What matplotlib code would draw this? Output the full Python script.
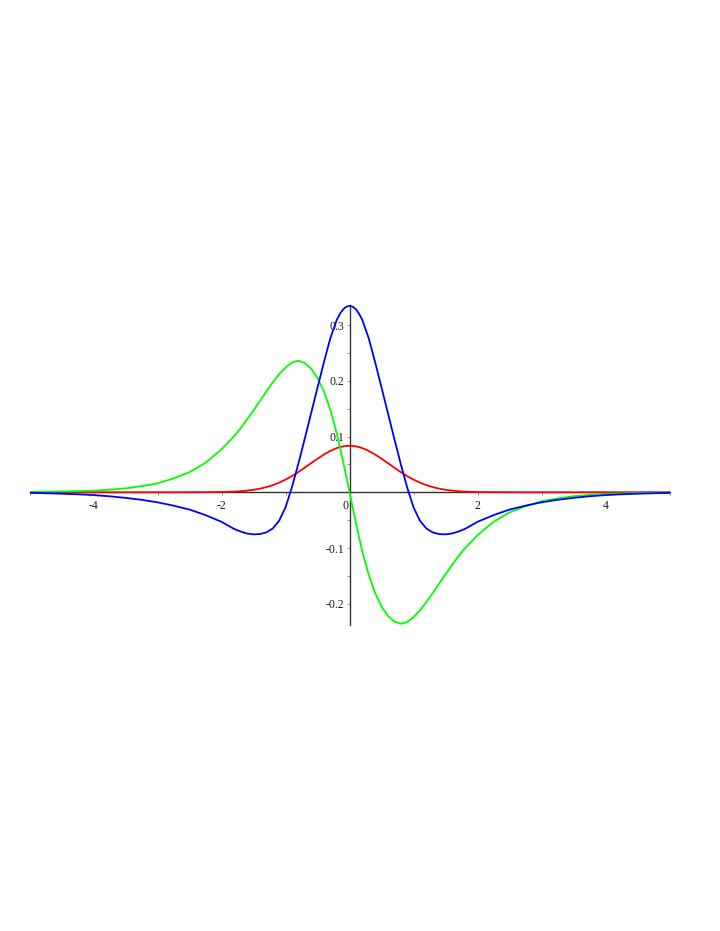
import numpy as np
import matplotlib
matplotlib.use("Agg")
import matplotlib.pyplot as plt
from matplotlib.ticker import MultipleLocator, FixedLocator

plt.rcParams['font.family'] = ['Liberation Serif', 'DejaVu Serif']

# values
x_vals = [-5, -4.75, -4.5, -4.25, -4, -3.75, -3.5, -3.25, -3, -2.75, -2.5, -2.25,
          -2.0, -1.9, -1.8, -1.7, -1.6, -1.5, -1.4, -1.3, -1.2, -1.1,
          -1.0, -0.9, -0.8, -0.7, -0.6, -0.5, -0.4, -0.3, -0.2, -0.15, -0.1, -0.05,
          0.0,
          0.05, 0.1, 0.15, 0.2, 0.3, 0.4, 0.5, 0.6, 0.7, 0.8, 0.9, 1.0,
          1.1, 1.2, 1.3, 1.4, 1.5, 1.6, 1.7, 1.8, 1.9, 2.0,
          2.25, 2.5, 2.75, 3, 3.25, 3.5, 3.75, 4, 4.25, 4.5, 4.75, 5]

red_vals = [0, 0, 0, 0, 0, 0, 0, 0, 0, 0, 0.0001, 0.0002,
            0.0005, 0.0008, 0.0012, 0.0020, 0.0030, 0.0045, 0.0065, 0.0093, 0.0128, 0.0173,
            0.0228, 0.0291, 0.0363, 0.0442, 0.0523, 0.0603, 0.0678, 0.0743, 0.0793, 0.0811, 0.0824, 0.0832,
            0.0835,
            0.0832, 0.0824, 0.0811, 0.0793, 0.0743, 0.0678, 0.0603, 0.0523, 0.0442, 0.0363, 0.0291, 0.0228,
            0.0173, 0.0128, 0.0093, 0.0065, 0.0045, 0.0030, 0.0020, 0.0012, 0.0008, 0.0005,
            0.0002, 0.0001, 0, 0, 0, 0, 0, 0, 0, 0, 0, 0]

green_vals = [0.0006, 0.0009, 0.0014, 0.0021, 0.003, 0.0046, 0.007, 0.011, 0.016, 0.025, 0.036, 0.053,
              0.077, 0.089, 0.101, 0.115, 0.131, 0.147, 0.164, 0.181, 0.197, 0.212,
              0.224, 0.233, 0.236, 0.232, 0.222, 0.205, 0.181, 0.148, 0.106, 0.081, 0.055, 0.028,
              0.0,
              -0.028, -0.055, -0.081, -0.106, -0.148, -0.181, -0.205, -0.222, -0.232, -0.236, -0.233, -0.224,
              -0.212, -0.197, -0.181, -0.164, -0.147, -0.131, -0.115, -0.101, -0.089, -0.077,
              -0.053, -0.036, -0.025, -0.016, -0.011, -0.007, -0.0046, -0.003, -0.0021, -0.0014, -0.0009, -0.0006]

blue_vals = [-0.001, -0.0017, -0.0025, -0.0036, -0.005, -0.0072, -0.010, -0.0135, -0.018, -0.024, -0.031, -0.041,
             -0.053, -0.0595, -0.066, -0.0705, -0.074, -0.0755, -0.075, -0.072, -0.065, -0.051,
             -0.027, 0.009, 0.051, 0.096, 0.142, 0.188, 0.2335, 0.2765, 0.3093, 0.3202, 0.3284, 0.3331,
             0.3347,
             0.3331, 0.3284, 0.3202, 0.3093, 0.2765, 0.2335, 0.188, 0.142, 0.096, 0.051, 0.009, -0.027,
             -0.051, -0.065, -0.072, -0.075, -0.0755, -0.074, -0.0705, -0.066, -0.0595, -0.053,
             -0.041, -0.031, -0.024, -0.018, -0.0135, -0.010, -0.0072, -0.005, -0.0036, -0.0025, -0.0017, -0.001]

x_ticks = [-4, -2, 2, 4]
y_ticks = [-0.2, -0.1, 0.1, 0.2, 0.3]

fig = plt.figure(figsize=(7.2, 9.31), dpi=100)
ax = fig.add_axes([0.041, 0.3291, 0.8889, 0.3429])

ax.plot(x_vals, red_vals, color="#ff0000", lw=1.3, zorder=3)
ax.plot(x_vals, green_vals, color="#00ff00", lw=1.3, zorder=4)
ax.plot(x_vals, blue_vals, color="#0000ff", lw=1.3, zorder=5)

ax.set_xlim(-5, 5)
ax.set_ylim(-0.2375, 0.3355)

for side in ["top", "right"]:
    ax.spines[side].set_visible(False)
ax.spines["left"].set_position(("data", 0))
ax.spines["bottom"].set_position(("data", 0))
for side in ["left", "bottom"]:
    ax.spines[side].set_color("#333333")
    ax.spines[side].set_linewidth(1.0)
    ax.spines[side].set_zorder(2)

ax.xaxis.set_major_locator(FixedLocator(x_ticks))
ax.yaxis.set_major_locator(FixedLocator(y_ticks))
ax.set_xticklabels([str(t) for t in x_ticks])
ax.set_yticklabels([f"{t:.1f}" for t in y_ticks])
ax.xaxis.set_minor_locator(MultipleLocator(1))
ax.yaxis.set_minor_locator(MultipleLocator(0.05))

ax.tick_params(which="both", direction="out", length=2.5, width=0.6,
               color="#888888", labelsize=8.5, labelcolor="#1a1a1a")
ax.tick_params(axis="x", pad=3)
ax.tick_params(axis="y", pad=1)

ax.annotate("0", xy=(0, 0), xytext=(-3, -5.5), textcoords="offset points",
            ha="center", va="top", fontsize=8.5, color="#1a1a1a")

ax.patch.set_alpha(0)
fig.savefig("out.png", dpi=100)
